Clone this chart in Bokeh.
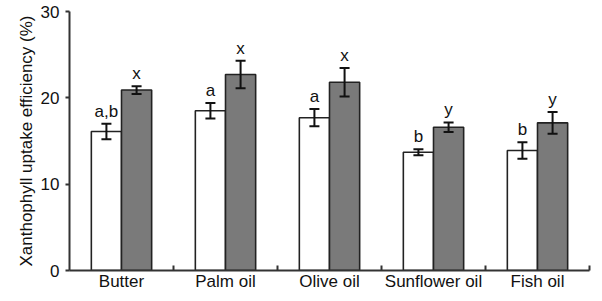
import numpy as np
from bokeh.plotting import figure
from bokeh.models import ColumnDataSource, FixedTicker, Whisker, Range1d
from bokeh.core.properties import value
from bokeh.embed import file_html
from bokeh.resources import INLINE

categories = ["Butter", "Palm oil", "Olive oil", "Sunflower oil", "Fish oil"]
white_vals = [16.1, 18.5, 17.7, 13.7, 13.9]
white_err = [0.9, 0.9, 1.0, 0.35, 0.95]
gray_vals = [20.9, 22.7, 21.8, 16.6, 17.1]
gray_err = [0.45, 1.6, 1.65, 0.55, 1.25]
white_labels = ["a,b", "a", "a", "b", "b"]
gray_labels = ["x", "x", "x", "y", "y"]
y_ticks = [0, 10, 20, 30]

FONT = "Liberation Sans"
AX = "#333333"

centers = np.arange(len(categories)) + 0.5
bw = 0.29
xw = centers - bw / 2
xg = centers + bw / 2

p = figure(width=594, height=293, output_backend="svg", toolbar_location=None,
           x_range=Range1d(0, 5), y_range=Range1d(0, 30),
           min_border_left=69, min_border_right=5, min_border_top=11, min_border_bottom=0)
p.outline_line_color = None
p.grid.visible = False
p.background_fill_color = "white"

sw = ColumnDataSource(dict(x=xw, top=white_vals, lo=np.array(white_vals) - np.array(white_err),
                           hi=np.array(white_vals) + np.array(white_err), lab=white_labels))
sg = ColumnDataSource(dict(x=xg, top=gray_vals, lo=np.array(gray_vals) - np.array(gray_err),
                           hi=np.array(gray_vals) + np.array(gray_err), lab=gray_labels))

for src, col in ((sw, "white"), (sg, "#7a7a7a")):
    p.vbar(x="x", top="top", bottom=0, width=bw, source=src, fill_color=col,
           line_color="#222222", line_width=1.6)
    w = Whisker(base="x", lower="lo", upper="hi", source=src, line_color="#111111",
                line_width=2, level="overlay")
    w.upper_head.size = 10
    w.lower_head.size = 10
    w.upper_head.line_width = 2
    w.lower_head.line_width = 2
    w.upper_head.line_color = "#111111"
    w.lower_head.line_color = "#111111"
    p.add_layout(w)
    p.text(x="x", y="hi", text="lab", source=src, text_align="center", text_baseline="bottom",
           y_offset=-3, text_font=value(FONT), text_font_size="17px", text_color="#111111")

# x axis
p.xaxis.ticker = FixedTicker(ticks=list(centers), minor_ticks=[1, 2, 3, 4, 5])
p.xaxis.major_label_overrides = {float(c): n for c, n in zip(centers, categories)}
p.xaxis.major_tick_line_color = None
p.xaxis.major_tick_in = 0
p.xaxis.major_tick_out = 0
p.xaxis.minor_tick_in = 5
p.xaxis.minor_tick_out = 0
p.xaxis.minor_tick_line_color = AX
p.xaxis.minor_tick_line_width = 2
p.xaxis.axis_line_color = AX
p.xaxis.axis_line_width = 2
p.xaxis.major_label_text_font = FONT
p.xaxis.major_label_text_font_size = "17px"
p.xaxis.major_label_text_color = "#111111"
p.xaxis.major_label_standoff = 1

# y axis
p.yaxis.ticker = FixedTicker(ticks=y_ticks, minor_ticks=[])
p.yaxis.major_tick_in = 0
p.yaxis.major_tick_out = 4
p.yaxis.major_tick_line_color = AX
p.yaxis.major_tick_line_width = 2
p.yaxis.axis_line_color = AX
p.yaxis.axis_line_width = 2
p.yaxis.major_label_text_font = FONT
p.yaxis.major_label_text_font_size = "17px"
p.yaxis.major_label_text_color = "#111111"
p.yaxis.major_label_standoff = 6
p.yaxis.axis_label = "Xanthophyll uptake efficiency (%)"
p.yaxis.axis_label_text_font = FONT
p.yaxis.axis_label_text_font_size = "17px"
p.yaxis.axis_label_text_font_style = "normal"
p.yaxis.axis_label_text_color = "#111111"
p.yaxis.axis_label_standoff = 2

open("out.html", "w").write(file_html(p, INLINE))
